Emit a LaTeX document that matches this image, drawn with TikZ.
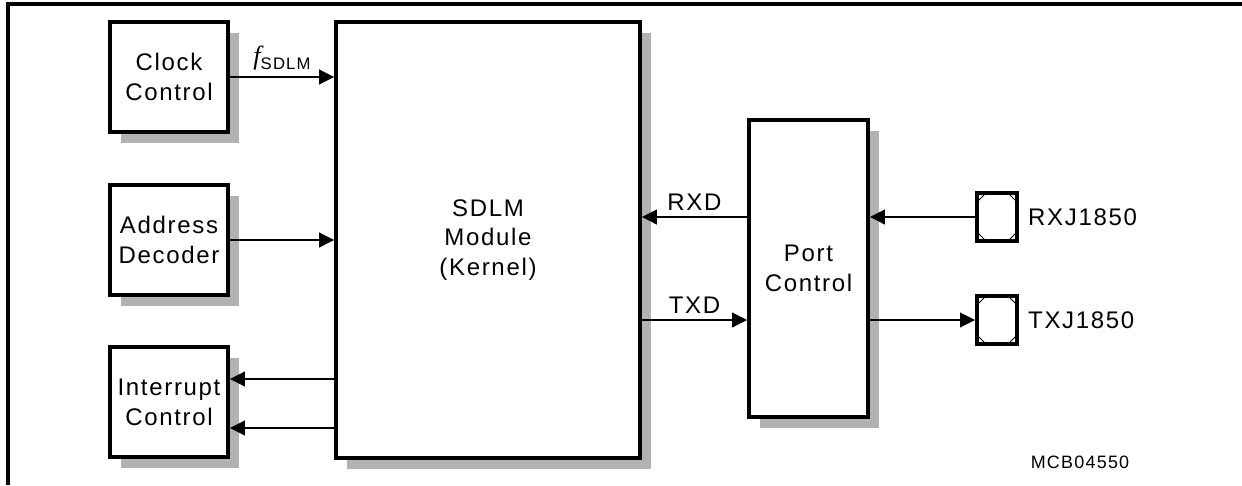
\documentclass[tikz,border=0pt]{standalone}
\usepackage{fontspec}
\setmainfont{Liberation Sans}[LetterSpace=7]
\newfontfamily\serifit{Liberation Serif}
\usetikzlibrary{positioning}
\usetikzlibrary{calc}
\usetikzlibrary{arrows.meta}
\usetikzlibrary{shadows}

\begin{document}
\begin{tikzpicture}[x=0.02cm, y=-0.02cm,
    every node/.style={font=\fontsize{13.66pt}{17pt}\selectfont},
    box/.style={draw, line width=0.08cm, fill=white, align=center, inner sep=0pt,
        drop shadow={shadow xshift=0.22cm, shadow yshift=-0.22cm, fill=black!30, opacity=1}},
    pad/.style={draw, line width=0.08cm, fill=white, minimum width=0.8cm, minimum height=0.96cm, inner sep=0pt},
    sig/.style={line width=0.022cm, -{Triangle[length=0.3cm, width=0.3cm]}}]
    \useasboundingbox (0,0) rectangle (1242,485);
    \draw[line width=0.065cm] (8,485) -- (8,4) -- (1242,4);

    \node[box, minimum width=2.36cm, minimum height=2.2cm] (clk) at (169,77) {Clock\\Control};
    \node[box, minimum width=2.36cm, minimum height=2.2cm] (adr) at (169,240) {Address\\Decoder};
    \node[box, minimum width=2.36cm, minimum height=2.2cm] (irq) at (169,402) {Interrupt\\Control};
    \node[box, minimum width=6.08cm, minimum height=8.72cm] (sdlm) at (488,240) {SDLM\\Module\\(Kernel)};
    \node[box, minimum width=2.38cm, minimum height=5.94cm] (port) at (808.5,268.5) {Port\\Control};

    \node[pad] (rxp) at (997,217) {};
    \node[pad] (txp) at (997,320) {};
    \node[right=0.06cm of rxp] {RXJ1850};
    \node[right=0.06cm of txp] {TXJ1850};
    \foreach \p in {rxp,txp} {
        \draw[line width=0.02cm] ($(\p.north west)+(3,10)$) -- ++(7,-7);
        \draw[line width=0.02cm] ($(\p.north east)+(-3,10)$) -- ++(-7,-7);
        \draw[line width=0.02cm] ($(\p.south west)+(3,-10)$) -- ++(7,7);
        \draw[line width=0.02cm] ($(\p.south east)+(-3,-10)$) -- ++(-7,7);
    }

    \draw[sig] (clk.east) -- node[above] {{\serifit\itshape\fontsize{15pt}{15pt}\selectfont f}\raisebox{-2.8pt}{\fontsize{9.5pt}{9.5pt}\selectfont SDLM}} (clk -| sdlm.west);
    \draw[sig] (adr.east) -- (adr -| sdlm.west);
    \foreach \d in {-23,26} {
        \path ($(irq.east)+(0,\d)$) coordinate (t);
        \draw[sig] (t -| sdlm.west) -- (t);
    }
    \draw[sig] (rxp -| port.west) -- node[above] {RXD} (rxp -| sdlm.east);
    \draw[sig] (txp -| sdlm.east) -- node[above] {TXD} (txp -| port.west);
    \draw[sig] (rxp.west) -- (rxp -| port.east);
    \draw[sig] (txp -| port.east) -- (txp.west);

    \node[font=\fontsize{10.2pt}{12pt}\selectfont] (tag) at (1080,462) {MCB04550};
\end{tikzpicture}
\end{document}
